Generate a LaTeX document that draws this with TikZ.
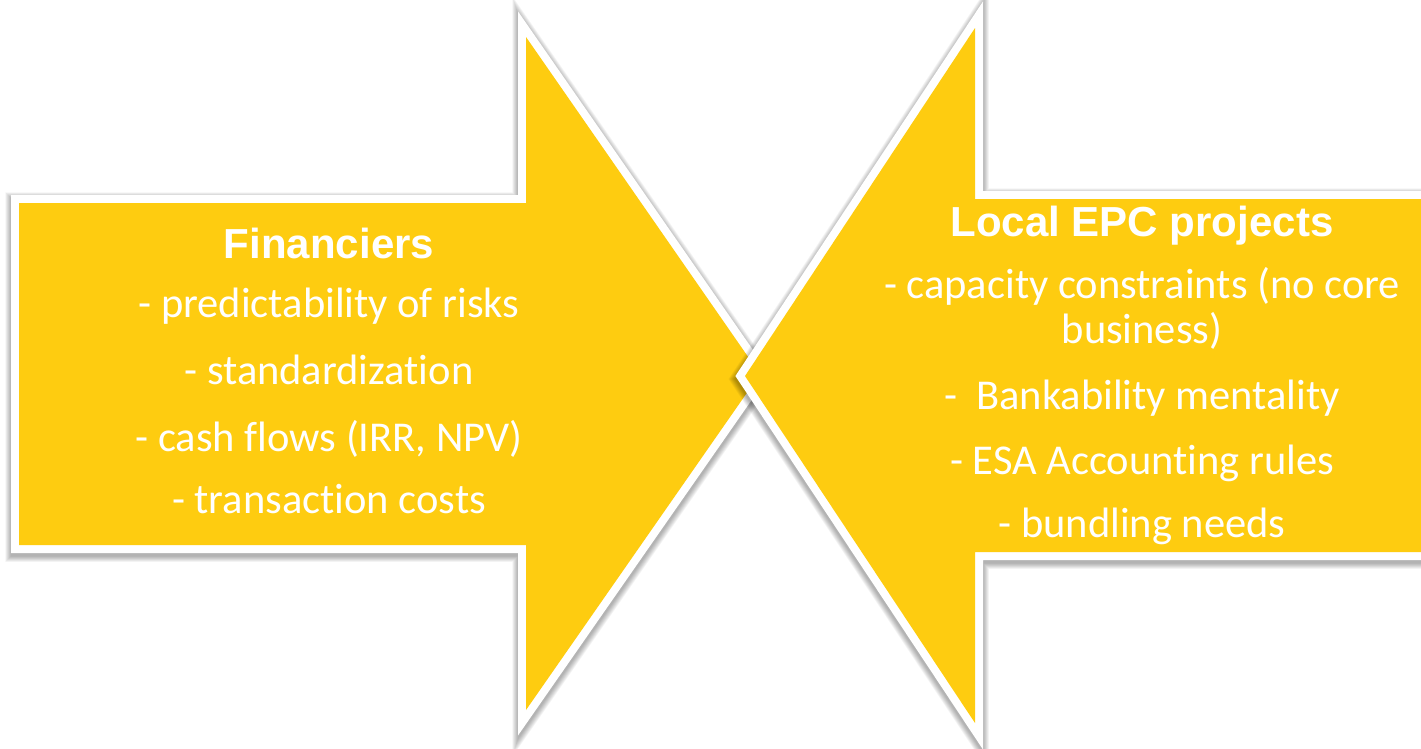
\documentclass[tikz,border=0pt]{standalone}
\usepackage{fontspec}
\setmainfont{Carlito}[Ligatures={NoCommon,NoContextual}]
\newfontfamily\headfont{Liberation Sans}
\definecolor{arrowyellow}{HTML}{FECC10}
\begin{document}
\begin{tikzpicture}[x=1pt,y=-1pt, line join=miter, miter limit=10,
  txt/.style={text=white, font=\fontsize{42.5}{50}\selectfont, anchor=base, inner sep=0pt},
  headtxt/.style={text=white, font=\headfont\bfseries\fontsize{42}{50}\selectfont, anchor=base, inner sep=0pt},
  rim/.style={draw=white, line width=16pt},
  body/.style={fill=arrowyellow},
  shade/.style={draw=black, opacity=0.045, yshift=-3pt}]
\useasboundingbox (0,0) rectangle (1421,748);
\clip (0,0) rectangle (1421,748);
\def\leftarrowpath{(19,203) -- (526,203) -- (526,37) -- (760,374) -- (526,710) -- (526,545) -- (19,545) -- cycle}
\def\rightarrowpath{(1450,199) -- (975,199) -- (975,28) -- (745,376) -- (975,723) -- (975,552) -- (1450,552) -- cycle}
% left arrow
\foreach \w in {17,18.5,20,21.5,23,24.5,26,27.5} {\draw[shade, line width=\w pt] \leftarrowpath;}
\draw[rim] \leftarrowpath;
\fill[body] \leftarrowpath;
% right arrow
\foreach \w in {17,18.5,20,21.5,23,24.5,26,27.5} {\draw[shade, line width=\w pt] \rightarrowpath;}
\draw[rim] \rightarrowpath;
\fill[body] \rightarrowpath;
% left texts
\node[headtxt] (fin) at (329,258) {Financiers};
\node[txt] (l1) at (329,317) {- predictability of risks};
\node[txt] (l2) at (329,384) {- standardization};
\node[txt] (l3) at (329,451) {- cash flows (IRR, NPV)};
\node[txt] (l4) at (329,513) {- transaction costs};
% right texts
\node[headtxt] (epc) at (1142,236) {Local EPC projects};
\node[txt] (r1) at (1142,298) {- capacity constraints (no core};
\node[txt] (r1b) at (1142,343) {business)};
\node[txt] (r2) at (1142,409) {-\ \ Bankability mentality};
\node[txt] (r3) at (1142,474) {- ESA Accounting rules};
\node[txt] (r4) at (1142,537) {- bundling needs};
\end{tikzpicture}
\end{document}
